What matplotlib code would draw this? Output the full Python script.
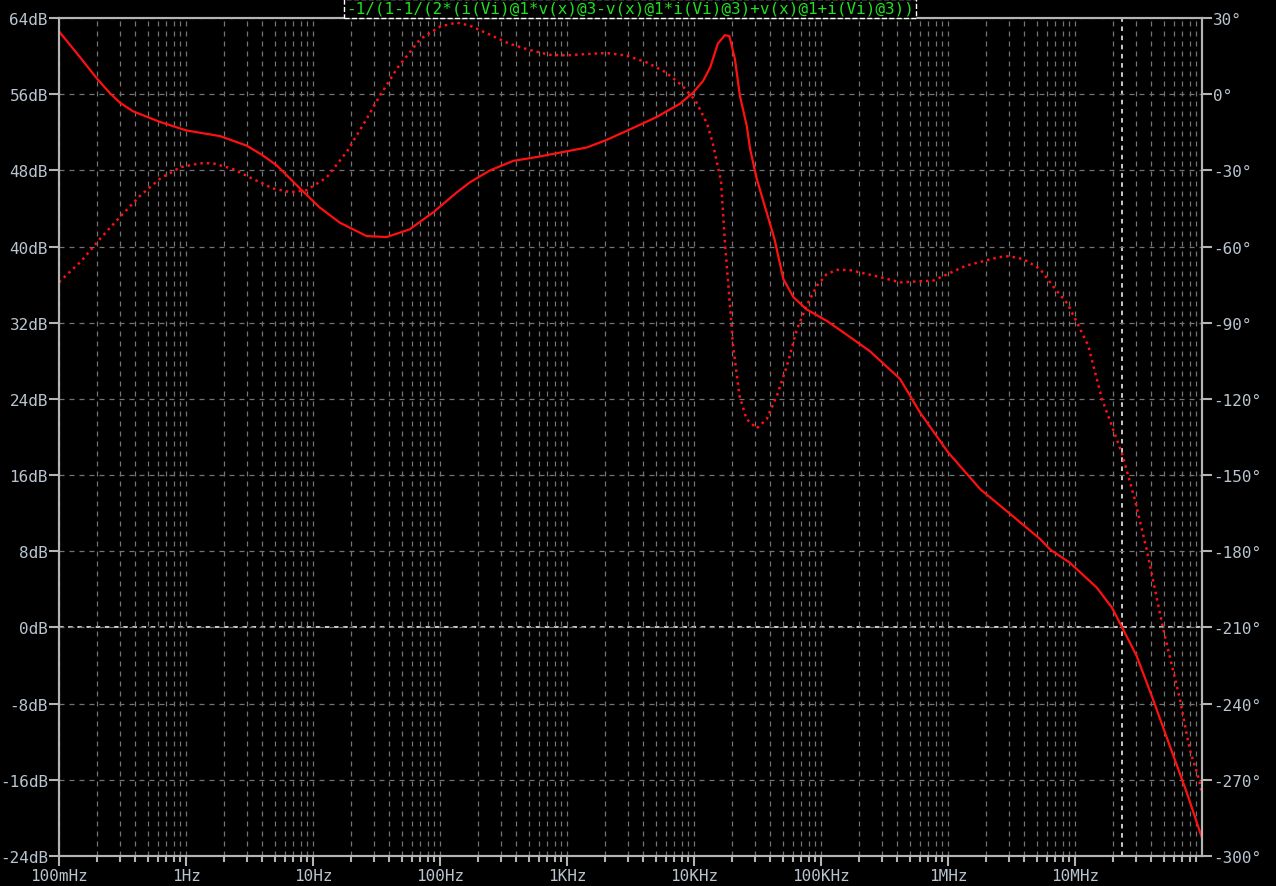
"""Bode plot of the loop gain expression, LTspice style (black background)."""

import matplotlib

matplotlib.use("Agg")
import matplotlib.pyplot as plt
from matplotlib.ticker import FixedLocator, NullFormatter

# --- data ------------------------------------------------------------------
freq_mag = [0.1, 0.146, 0.2, 0.252, 0.302, 0.383, 0.62, 1.0, 1.85, 3.0, 4.0,
            5.2, 7.9, 11.3, 16.3, 26.4, 38, 57.6, 88.6, 136, 172, 248, 378,
            577, 995, 1430, 2050, 3130, 5080, 7760, 9900, 11800, 13400, 15400,
            17500, 19000, 21000, 23000, 26000, 27700, 31200, 43000, 50500,
            60500, 77000, 111000, 169000, 243000, 419000, 600000, 1.0e6,
            1.8e6, 3.1e6, 5.3e6, 6.35e6, 9.1e6, 14.8e6, 19.5e6, 23.5e6,
            30.6e6, 41e6, 56e6, 75.7e6, 100e6]
mag_db = [62.6, 59.9, 57.6, 56.1, 55.1, 54.2, 53.1, 52.2, 51.6, 50.6, 49.6,
          48.5, 46.1, 44.1, 42.5, 41.1, 41.0, 41.8, 43.6, 45.7, 46.75, 48.0,
          49.0, 49.4, 50.0, 50.4, 51.2, 52.3, 53.6, 55.0, 56.2, 57.4, 58.8,
          61.3, 62.2, 62.1, 59.7, 55.8, 52.7, 50.2, 47.1, 40.8, 36.6, 34.7,
          33.4, 32.2, 30.5, 29.0, 26.1, 22.6, 18.4, 14.5, 11.9, 9.3, 8.2, 6.8,
          4.2, 2.1, 0.0, -3.0, -7.5, -12.5, -17.3, -22.1]

freq_ph = [0.1, 0.15, 0.21, 0.3, 0.435, 0.62, 0.9, 1.29, 1.63, 2.35, 3.37,
           4.83, 6.6, 8.9, 12.8, 18.5, 26.4, 33.6, 46.6, 70, 100, 135, 172,
           248, 354, 508, 730, 995, 1430, 2050, 2940, 4200, 6000, 8100, 10300,
           12700, 14000, 16300, 17600, 19200, 20300, 22800, 25900, 31200,
           37400, 45000, 54000, 64700, 77000, 93000, 111000, 134000, 166000,
           290000, 419000, 766000, 1.39e6, 2.5e6, 3.0e6, 3.9e6, 5.3e6, 6.8e6,
           8.75e6, 10.5e6, 12.7e6, 16.3e6, 23.5e6, 29.5e6, 36.6e6, 49.5e6,
           67e6, 80e6, 95e6, 100e6]
phase_deg = [-74.0, -65.7, -57.0, -48.5, -40.0, -33.4, -28.8, -27.2, -27.2,
             -29.5, -33.4, -37.1, -38.6, -37.8, -32.8, -22.6, -9.8, -0.6,
             10.6, 21.7, 26.6, 28.2, 27.0, 23.4, 19.8, 17.4, 15.5, 15.3, 15.8,
             16.2, 15.2, 12.6, 8.6, 3.3, -2.6, -11.7, -19.0, -34.1, -59.7,
             -83.3, -99.0, -118.7, -127.9, -131.6, -127.9, -118.7, -106.9,
             -92.5, -83.3, -75.4, -70.8, -69.2, -69.2, -72.0, -74.1, -73.4,
             -67.5, -64.2, -63.8, -64.9, -68.8, -76.0, -82.6, -90.5, -99.0,
             -120.0, -141.7, -159.4, -179.1, -210.6, -238.2, -258.0, -270.0,
             -276.0]

cursor_freq = 23.5e6

x_major = [0.1, 1, 10, 100, 1e3, 1e4, 1e5, 1e6, 1e7]
x_labels = ["100mHz", "1Hz", "10Hz", "100Hz", "1KHz", "10KHz", "100KHz",
            "1MHz", "10MHz"]
db_ticks = list(range(-24, 65, 8))
deg_ticks = list(range(-300, 31, 30))
title = "-1/(1-1/(2*(i(Vi)@1*v(x)@3-v(x)@1*i(Vi)@3)+v(x)@1+i(Vi)@3))"

# --- style -------------------------------------------------------------------
FG = "#b4b4b4"
TXT = "#b8c4d0"
GRID = "#747474"
FONT = "DejaVu Sans Mono"
FS = 11.5

fig = plt.figure(figsize=(12.76, 8.87), dpi=100, facecolor="black")
ax = fig.add_axes([59 / 1276, 1 - 857 / 887, 1143 / 1276, 838 / 887])
ax.set_facecolor("black")
ax2 = ax.twinx()

minor = [m * d for d in x_major for m in range(2, 10)]

ax.set_xscale("log")
ax.set_xlim(0.1, 1e8)
ax.set_ylim(-24, 64)
ax2.set_ylim(-300, 30)

ax.xaxis.set_major_locator(FixedLocator(x_major))
ax.xaxis.set_minor_locator(FixedLocator(minor))
ax.xaxis.set_minor_formatter(NullFormatter())
ax.set_xticklabels(x_labels, fontfamily=FONT, fontsize=FS, color=TXT)
ax.set_yticks(db_ticks)
ax.set_yticklabels([f"{v}dB" for v in db_ticks], fontfamily=FONT,
                   fontsize=FS, color=TXT)
ax2.set_yticks(deg_ticks)
ax2.set_yticklabels([f"{v}°" for v in deg_ticks], fontfamily=FONT,
                    fontsize=FS, color=TXT)

for a in (ax, ax2):
    for s in a.spines.values():
        s.set_color(FG)
        s.set_linewidth(1.5)
ax.tick_params(axis="x", which="major", length=7, width=1.5, color=FG, pad=2)
ax.tick_params(axis="x", which="minor", length=4, width=1.5, color=FG)
ax.tick_params(axis="y", length=7, width=1.5, color=FG, pad=1)
ax2.tick_params(axis="y", length=7, width=1.5, color=FG, pad=1)

gstyle = dict(color=GRID, linewidth=0.9, linestyle=(0, (4, 4)))
ax.grid(True, which="both", axis="x", **gstyle)
ax.grid(True, which="major", axis="y", **gstyle)

# cursor cross
ax.axhline(0, color="white", linewidth=1.1, linestyle=(0, (3, 3)), zorder=1.5)
ax.axvline(cursor_freq, color="white", linewidth=1.1, linestyle=(0, (3, 3)),
           zorder=1.5)

ax.plot(freq_mag, mag_db, color="#ff1010", linewidth=1.6, zorder=3)
ax2.plot(freq_ph, phase_deg, color="#ff1010", linewidth=1.8,
         linestyle=(0, (1, 1.6)))

fig.text(630 / 1276, 1 - 9.5 / 887, title, ha="center", va="center",
         fontfamily=FONT, fontsize=FS, color="#20e020",
         bbox=dict(facecolor="black", edgecolor="white", linestyle="--",
                   linewidth=1, boxstyle="square,pad=0.15"))

fig.savefig("out.png", dpi=100, facecolor="black")
